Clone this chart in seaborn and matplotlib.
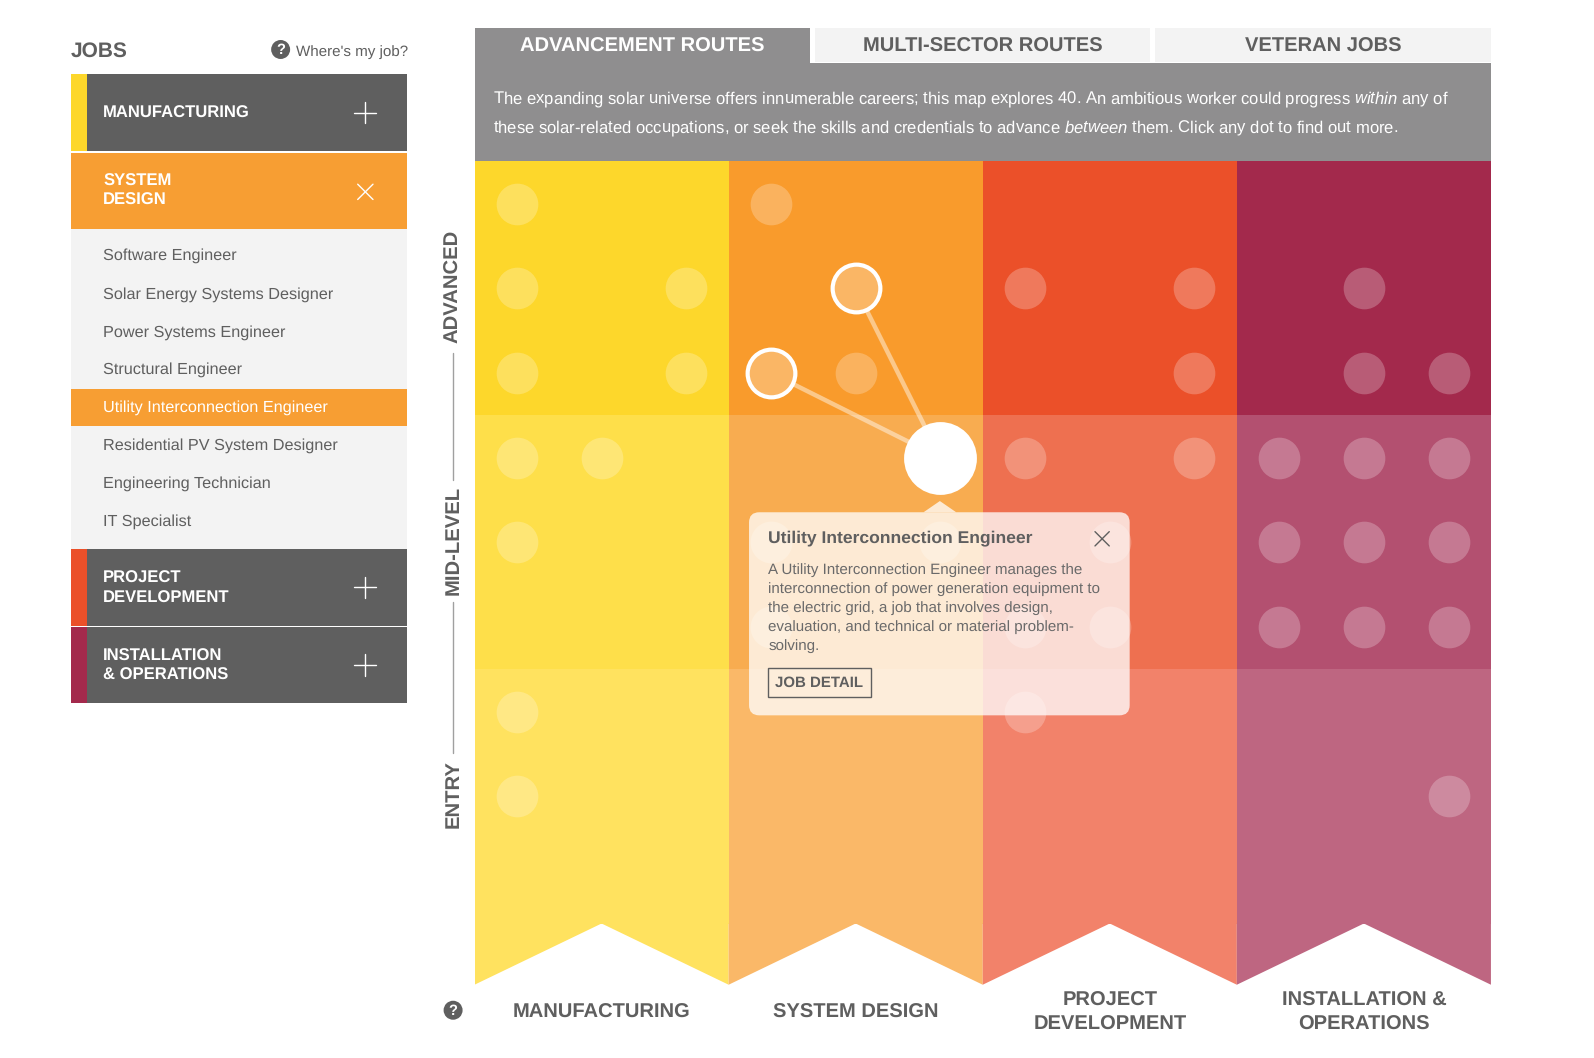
"""
Solar jobs map: advancement routes view.
"""
import numpy as np
import pandas as pd
import seaborn as sns
import matplotlib.pyplot as plt
from matplotlib.colors import ListedColormap
from matplotlib.patches import Rectangle, FancyBboxPatch, Polygon, Circle
from matplotlib.transforms import ScaledTranslation

sectors = ["MANUFACTURING", "SYSTEM DESIGN", "PROJECT\nDEVELOPMENT", "INSTALLATION &\nOPERATIONS"]
levels = ["ADVANCED", "MID-LEVEL", "ENTRY"]
advanced_colors = ["#FDD72B", "#F99B2C", "#EB5029", "#A3294C"]
midlevel_colors = ["#FEDF4A", "#F8AC50", "#EE7050", "#B35070"]
entry_colors = ["#FFE25F", "#FAB868", "#F2826A", "#BE6681"]

# job dots on a lattice: 12 columns (3 per sector), 9 rows (3 per level)
dot_col = [0, 3, 0, 2, 6, 8, 10, 0, 2, 4, 8, 10, 11, 0, 1, 6, 8, 9, 10, 11,
           0, 3, 5, 7, 9, 10, 11, 3, 6, 7, 9, 10, 11, 0, 6, 0, 11]
dot_row = [0, 0, 1, 1, 1, 1, 1, 2, 2, 2, 2, 2, 2, 3, 3, 3, 3, 3, 3, 3,
           4, 4, 4, 4, 4, 4, 4, 5, 5, 5, 5, 5, 5, 6, 6, 7, 7]
route_col = [4, 3]
route_row = [1, 2]
selected_col = 5
selected_row = 3

job_names = ["Software Engineer", "Solar Energy Systems Designer", "Power Systems Engineer",
             "Structural Engineer", "Utility Interconnection Engineer",
             "Residential PV System Designer", "Engineering Technician", "IT Specialist"]
tab_names = ["ADVANCEMENT ROUTES", "MULTI-SECTOR ROUTES", "VETERAN JOBS"]
intro_lines = [r"The expanding solar universe offers innumerable careers; this map explores 40. An ambitious worker could progress $\mathit{within}$ any of",
               r"these solar-related occupations, or seek the skills and credentials to advance $\mathit{between}$ them. Click any dot to find out more."]
popup_lines = ["A Utility Interconnection Engineer manages the",
               "interconnection of power generation equipment to",
               "the electric grid, a job that involves design,",
               "evaluation, and technical or material problem-",
               "solving."]

sns.set_theme(style="white")
plt.rcParams["font.family"] = ["Liberation Sans", "DejaVu Sans"]
plt.rcParams["mathtext.fontset"] = "custom"
plt.rcParams["mathtext.it"] = "Liberation Sans:italic"
plt.rcParams["mathtext.rm"] = "Liberation Sans"
plt.rcParams["text.hinting"] = "none"

DARK = "#5F5F5F"
W, H = 1562.0, 1036.8

fig = plt.figure(figsize=(15.94, 10.58), dpi=100, facecolor="white")

# ---- the grid
left, right, top, bottom = 465, 1461, 158, 965
ax = fig.add_axes([left / W, 1 - bottom / H, (right - left) / W, (bottom - top) / H])
colors = advanced_colors + midlevel_colors + entry_colors
matrix = np.arange(12).reshape(3, 4)
sns.heatmap(matrix, cmap=ListedColormap(colors), vmin=-0.5, vmax=11.5, cbar=False, ax=ax)
ax.set_xlim(0, 4)
ax.set_ylim((bottom - top) / 249.0, 0)
foot = (bottom - top) / 249.0
for i, c in enumerate(entry_colors):
    ax.fill([i, i + 1, i + 1, i + 0.5, i], [3, 3, foot, 3, foot], color=c, lw=0)
for s in ax.spines.values():
    s.set_visible(False)

ax.set_xticks(np.arange(4) + 0.5)
ax.set_xticklabels(sectors, fontsize=14.5, fontweight="bold", color=DARK, rotation=0, va="center", linespacing=1.32)
ax.set_yticks(np.arange(3) + 0.5)
ax.set_yticklabels(levels, fontsize=14.6, fontweight="bold", color=DARK, rotation=90, va="center", ha="center",
                   rotation_mode="anchor")
ax.tick_params(axis="x", length=0, pad=20)
ax.tick_params(axis="y", length=0, pad=15.5)
for lab in ax.get_yticklabels():
    lab.set_transform(lab.get_transform() + ScaledTranslation(0, 1.4 / 72, fig.dpi_scale_trans))

dots = pd.DataFrame({"x": (np.array(dot_col) + 0.5) / 3, "y": (np.array(dot_row) + 0.5) / 3})
routes = pd.DataFrame({"x": (np.array(route_col) + 0.5) / 3, "y": (np.array(route_row) + 0.5) / 3})
sel_x = (selected_col + 0.5) / 3
sel_y = (selected_row + 0.5) / 3

sns.scatterplot(data=dots, x="x", y="y", s=900, color="white", alpha=0.24, linewidth=0, zorder=3, ax=ax, legend=False)

for x0, y0 in zip(routes["x"], routes["y"]):
    d = np.hypot(sel_x - x0, sel_y - y0)
    start = 25.0 / 249.0 / d
    ax.plot([x0 + (sel_x - x0) * start, sel_x], [y0 + (sel_y - y0) * start, sel_y],
            color="white", alpha=0.45, lw=3.2, solid_capstyle="butt", zorder=4)

sns.scatterplot(data=routes, x="x", y="y", s=1180, color="white", linewidth=3.0, zorder=5, ax=ax, legend=False)
ax.collections[-1].set_facecolor((1, 1, 1, 0.27))
sns.scatterplot(x=[sel_x], y=[sel_y], s=2750, color="white", linewidth=0, zorder=6, ax=ax, legend=False)
ax.set_xlabel("")
ax.set_ylabel("")

# ---- everything around the grid, in page pixels
ui = fig.add_axes([0, 0, 1, 1], zorder=5)
ui.set_xlim(0, W)
ui.set_ylim(H, 0)
ui.axis("off")


def box(x0, y0, x1, y1, color, **kw):
    ui.add_patch(Rectangle((x0, y0), x1 - x0, y1 - y0, facecolor=color, lw=0, **kw))


def help_icon(x, y):
    ui.add_patch(Circle((x, y), 9.3, facecolor=DARK, lw=0))
    ui.text(x, y + 0.5, "?", color="white", fontsize=10.5, fontweight="bold", ha="center", va="center")


def plus(x, y, r=10.5, color="white"):
    ui.plot([x - r, x + r], [y, y], color=color, lw=1)
    ui.plot([x, x], [y - r, y + r], color=color, lw=1)


def cross(x, y, r=7.5, color="white"):
    ui.plot([x - r, x + r], [y - r, y + r], color=color, lw=1)
    ui.plot([x - r, x + r], [y + r, y - r], color=color, lw=1)


# axis lines between the level labels
for y0, y1 in [(346, 470), (590, 738)]:
    ui.plot([444, 444], [y0, y1], color="#A0A0A0", lw=1)
help_icon(444, 990)

# sidebar
ui.text(69, 50.5, "JOBS", fontsize=15, fontweight="bold", color=DARK, va="center")
help_icon(275, 48.5)
ui.text(290, 51, "Where's my job?", fontsize=10.9, color=DARK, va="center")

bands = [(73, 148, "MANUFACTURING", advanced_colors[0]),
         (538, 613, "PROJECT\nDEVELOPMENT", advanced_colors[2]),
         (614, 689, "INSTALLATION\n& OPERATIONS", advanced_colors[3])]
for y0, y1, label, c in bands:
    box(70, y0, 399, y1, DARK)
    box(70, y0, 85, y1, c)
    ui.text(101, (y0 + y1) / 2 + 1, label, color="white", fontsize=12, fontweight="bold", va="center", linespacing=1.3)
    plus(357.5, (y0 + y1) / 2)

box(70, 150, 399, 224, "#F79E33")
ui.text(101, 187, "SYSTEM\nDESIGN", color="white", fontsize=12, fontweight="bold", va="center", linespacing=1.3)
cross(358, 188)

box(70, 224, 399, 538, "#F3F3F3")
box(70, 381, 399, 417, "#F79E33")
job_y = [250.5, 288.5, 325.5, 362, 399.5, 436.5, 474, 511.5]
for name, y in zip(job_names, job_y):
    col = "white" if name.startswith("Utility") else DARK
    ui.text(101, y, name, fontsize=11.7, color=col, va="center")

# tabs and intro
tab_x = [(465, 794), (799, 1127), (1132, 1461)]
for i, (name, (x0, x1)) in enumerate(zip(tab_names, tab_x)):
    if i == 0:
        box(x0, 27, x1, 62, "#8F8E8F")
    else:
        box(x0, 27, x1, 61, "#F3F3F3")
    ui.text((x0 + x1) / 2, 46, name, fontsize=14.5, fontweight="bold", color="white" if i == 0 else DARK,
            ha="center", va="center")
box(465, 62, 1461, 158, "#8F8E8F")
for line, y in zip(intro_lines, [97, 125.5]):
    ui.text(483, y, line, fontsize=11.99, color="white", va="center")

# popup
ui.add_patch(Polygon([[905, 502], [921, 491], [937, 502]], facecolor="white", alpha=0.76, lw=0))
ui.add_patch(FancyBboxPatch((744, 512), 353, 179, boxstyle="round,pad=10,rounding_size=10",
                            facecolor="white", alpha=0.76, lw=0))
ui.text(753, 527.5, "Utility Interconnection Engineer", fontsize=12.6, fontweight="bold", color=DARK, va="center")
cross(1080, 528, r=7, color=DARK)
for i, line in enumerate(popup_lines):
    ui.text(753, 559 + i * 18.5, line, fontsize=10.87, color="#6A6A6A", va="center")
ui.add_patch(Rectangle((752.5, 654.5), 101, 29, facecolor="none", edgecolor=DARK, lw=1))
ui.text(803, 669, "JOB DETAIL", fontsize=10.8, fontweight="bold", color=DARK, ha="center", va="center")

fig.savefig("out.png", dpi=100)
